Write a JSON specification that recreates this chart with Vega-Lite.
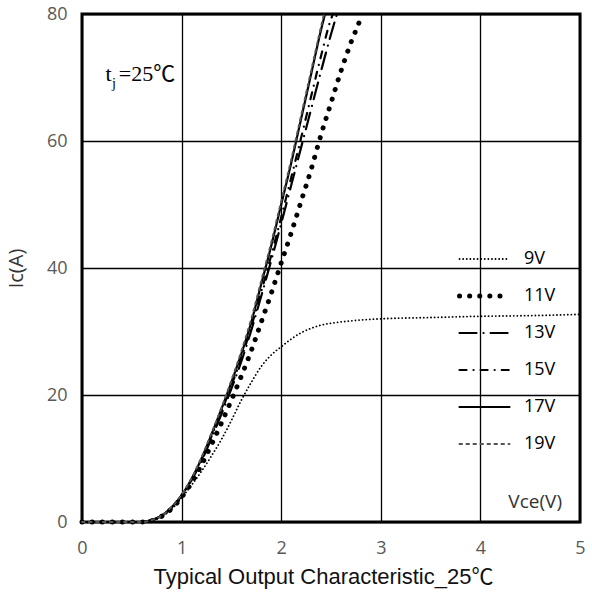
{
  "$schema": "https://vega.github.io/schema/vega-lite/v6.json",
  "width": 498,
  "height": 508,
  "autosize": "none",
  "padding": {"left": 82, "top": 14, "right": 12, "bottom": 77},
  "background": "white",
  "config": {
    "view": {"stroke": "black", "strokeWidth": 3},
    "axis": {"domain": false, "ticks": false, "grid": true, "gridColor": "black", "gridWidth": 1.3, "gridOpacity": 1, "labelFlush": false, "labelFont": "Open Sans", "labelFontSize": 18, "labelColor": "#595959", "titleFont": "Liberation Sans, Noto Sans CJK SC", "titleFontWeight": "normal", "titleFontSize": 22, "titleColor": "#111"}
  },
  "data": {"values": [
    {"v":"9V","x":0,"i":0},{"v":"9V","x":0.6,"i":0},{"v":"9V","x":0.7,"i":0.2},{"v":"9V","x":0.8,"i":0.8},{"v":"9V","x":0.9,"i":2},{"v":"9V","x":1.0,"i":3.8},{"v":"9V","x":1.1,"i":5.8},{"v":"9V","x":1.2,"i":8},{"v":"9V","x":1.3,"i":10.4},{"v":"9V","x":1.4,"i":13},{"v":"9V","x":1.5,"i":16},{"v":"9V","x":1.6,"i":19.2},{"v":"9V","x":1.7,"i":22},{"v":"9V","x":1.8,"i":24.5},{"v":"9V","x":1.9,"i":26.3},{"v":"9V","x":2.0,"i":27.6},{"v":"9V","x":2.1,"i":28.8},{"v":"9V","x":2.2,"i":29.8},{"v":"9V","x":2.3,"i":30.5},{"v":"9V","x":2.4,"i":31},{"v":"9V","x":2.6,"i":31.5},{"v":"9V","x":2.8,"i":31.8},{"v":"9V","x":3.0,"i":32},{"v":"9V","x":3.5,"i":32.2},{"v":"9V","x":4.0,"i":32.4},{"v":"9V","x":4.5,"i":32.5},{"v":"9V","x":5.0,"i":32.7},
    {"v":"11V","x":0,"i":0},{"v":"11V","x":0.6,"i":0},{"v":"11V","x":0.7,"i":0.2},{"v":"11V","x":0.8,"i":0.9},{"v":"11V","x":0.9,"i":2.1},{"v":"11V","x":1.0,"i":3.9},{"v":"11V","x":1.1,"i":6.2},{"v":"11V","x":1.2,"i":9},{"v":"11V","x":1.3,"i":12.2},{"v":"11V","x":1.4,"i":15.6},{"v":"11V","x":1.5,"i":19.2},{"v":"11V","x":1.6,"i":23},{"v":"11V","x":1.7,"i":27},{"v":"11V","x":1.8,"i":31.5},{"v":"11V","x":1.9,"i":36},{"v":"11V","x":2.0,"i":40.8},{"v":"11V","x":2.1,"i":45.5},{"v":"11V","x":2.2,"i":50.5},{"v":"11V","x":2.3,"i":55.5},{"v":"11V","x":2.4,"i":61},{"v":"11V","x":2.5,"i":66},{"v":"11V","x":2.6,"i":71},{"v":"11V","x":2.7,"i":75.5},{"v":"11V","x":2.8,"i":79.5},{"v":"11V","x":2.81,"i":80},
    {"v":"13V","x":0,"i":0},{"v":"13V","x":0.6,"i":0},{"v":"13V","x":0.7,"i":0.3},{"v":"13V","x":0.8,"i":1.0},{"v":"13V","x":0.9,"i":2.3},{"v":"13V","x":1.0,"i":4.1},{"v":"13V","x":1.1,"i":6.6},{"v":"13V","x":1.2,"i":9.6},{"v":"13V","x":1.3,"i":13.2},{"v":"13V","x":1.4,"i":17},{"v":"13V","x":1.5,"i":21},{"v":"13V","x":1.6,"i":25.3},{"v":"13V","x":1.7,"i":30.2},{"v":"13V","x":1.8,"i":35.6},{"v":"13V","x":1.9,"i":41.2},{"v":"13V","x":2.0,"i":47},{"v":"13V","x":2.1,"i":53},{"v":"13V","x":2.2,"i":59},{"v":"13V","x":2.3,"i":65},{"v":"13V","x":2.4,"i":71},{"v":"13V","x":2.5,"i":76.8},{"v":"13V","x":2.56,"i":80},
    {"v":"15V","x":0,"i":0},{"v":"15V","x":0.6,"i":0},{"v":"15V","x":0.7,"i":0.3},{"v":"15V","x":0.8,"i":1.0},{"v":"15V","x":0.9,"i":2.3},{"v":"15V","x":1.0,"i":4.2},{"v":"15V","x":1.1,"i":6.7},{"v":"15V","x":1.2,"i":9.8},{"v":"15V","x":1.3,"i":13.5},{"v":"15V","x":1.4,"i":17.4},{"v":"15V","x":1.5,"i":21.5},{"v":"15V","x":1.6,"i":25.8},{"v":"15V","x":1.7,"i":30.8},{"v":"15V","x":1.8,"i":36.3},{"v":"15V","x":1.9,"i":42},{"v":"15V","x":2.0,"i":48},{"v":"15V","x":2.1,"i":54.2},{"v":"15V","x":2.2,"i":60.5},{"v":"15V","x":2.3,"i":67},{"v":"15V","x":2.4,"i":73.4},{"v":"15V","x":2.5,"i":79.2},{"v":"15V","x":2.52,"i":80},
    {"v":"17V","x":0,"i":0},{"v":"17V","x":0.6,"i":0},{"v":"17V","x":0.7,"i":0.3},{"v":"17V","x":0.8,"i":1.0},{"v":"17V","x":0.9,"i":2.3},{"v":"17V","x":1.0,"i":4.2},{"v":"17V","x":1.1,"i":6.8},{"v":"17V","x":1.2,"i":10},{"v":"17V","x":1.3,"i":13.8},{"v":"17V","x":1.4,"i":17.8},{"v":"17V","x":1.5,"i":22},{"v":"17V","x":1.6,"i":26.5},{"v":"17V","x":1.7,"i":31.5},{"v":"17V","x":1.8,"i":37.5},{"v":"17V","x":1.9,"i":43.5},{"v":"17V","x":2.0,"i":50},{"v":"17V","x":2.1,"i":56.5},{"v":"17V","x":2.2,"i":63.5},{"v":"17V","x":2.3,"i":70.5},{"v":"17V","x":2.4,"i":77.5},{"v":"17V","x":2.44,"i":80},
    {"v":"19V","x":0,"i":0},{"v":"19V","x":0.6,"i":0},{"v":"19V","x":0.7,"i":0.3},{"v":"19V","x":0.8,"i":1.0},{"v":"19V","x":0.9,"i":2.4},{"v":"19V","x":1.0,"i":4.3},{"v":"19V","x":1.1,"i":6.9},{"v":"19V","x":1.2,"i":10.2},{"v":"19V","x":1.3,"i":14},{"v":"19V","x":1.4,"i":18},{"v":"19V","x":1.5,"i":22.3},{"v":"19V","x":1.6,"i":26.9},{"v":"19V","x":1.7,"i":32},{"v":"19V","x":1.8,"i":38},{"v":"19V","x":1.9,"i":44},{"v":"19V","x":2.0,"i":50.5},{"v":"19V","x":2.1,"i":57},{"v":"19V","x":2.2,"i":64},{"v":"19V","x":2.3,"i":71},{"v":"19V","x":2.4,"i":78},{"v":"19V","x":2.43,"i":80}
  ]},
  "layer": [
    {
      "mark": {"type": "line", "interpolate": "monotone", "strokeCap": "round"},
      "encoding": {
        "x": {"field": "x", "type": "quantitative", "scale": {"domain": [0, 5], "nice": false}, "axis": {"values": [0,1,2,3,4,5], "format": "d", "labelPadding": 17, "title": "Typical Output Characteristic_25℃", "titlePadding": 9, "titleX": 241}},
        "y": {"field": "i", "type": "quantitative", "scale": {"domain": [0, 80], "nice": false}, "axis": {"values": [0,20,40,60,80], "labelPadding": 15, "title": "Ic(A)", "titlePadding": 20, "titleFont": "Open Sans", "titleFontSize": 20, "titleColor": "#333"}},
        "color": {"field": "v", "type": "nominal", "title": null, "scale": {"type": "ordinal", "domain": ["9V","11V","13V","15V","17V","19V"], "range": ["#000","#000","#000","#000","#000","#555"]},
          "legend": {"orient": "none", "legendX": 375, "legendY": 235, "padding": 0, "symbolType": "stroke", "symbolSize": 2500, "clipHeight": 20, "rowPadding": 17, "labelOffset": 12, "labelFont": "Open Sans", "labelFontSize": 18, "labelColor": "#000", "encode": {"symbols": {"update": {"strokeCap": {"value": "round"}}}}}},
        "strokeDash": {"field": "v", "type": "nominal", "title": null, "scale": {"type": "ordinal", "domain": ["9V","11V","13V","15V","17V","19V"], "range": [[0.1,3.5],[0.1,10],[17,7,0.1,7],[7,7,0.1,7],[1,0],[2.5,4.5]]}},
        "strokeWidth": {"field": "v", "type": "nominal", "title": null, "scale": {"type": "ordinal", "domain": ["9V","11V","13V","15V","17V","19V"], "range": [1.8,5,2.2,2.2,2.2,2]}}
      }
    },
    {
      "data": {"values": [{}]},
      "mark": {"type": "text", "font": "Open Sans", "fontSize": 19, "color": "#333", "align": "center", "baseline": "middle"},
      "encoding": {"x": {"datum": 4.55, "type": "quantitative"}, "y": {"datum": 3.1, "type": "quantitative"}, "text": {"value": "Vce(V)"}}
    },
    {
      "data": {"values": [{}]},
      "mark": {"type": "text", "font": "Liberation Serif", "fontSize": 22, "color": "#000", "align": "left", "baseline": "alphabetic"},
      "encoding": {"x": {"datum": 0.235, "type": "quantitative"}, "y": {"datum": 69.4, "type": "quantitative"}, "text": {"value": "t"}}
    },
    {
      "data": {"values": [{}]},
      "mark": {"type": "text", "font": "Liberation Serif", "fontSize": 14, "color": "#000", "align": "left", "baseline": "alphabetic"},
      "encoding": {"x": {"datum": 0.3, "type": "quantitative"}, "y": {"datum": 68.4, "type": "quantitative"}, "text": {"value": "j"}}
    },
    {
      "data": {"values": [{}]},
      "mark": {"type": "text", "font": "Liberation Serif, Noto Sans CJK SC", "fontSize": 22, "color": "#000", "align": "left", "baseline": "alphabetic"},
      "encoding": {"x": {"datum": 0.37, "type": "quantitative"}, "y": {"datum": 69.4, "type": "quantitative"}, "text": {"value": "=25℃"}}
    }
  ]
}
